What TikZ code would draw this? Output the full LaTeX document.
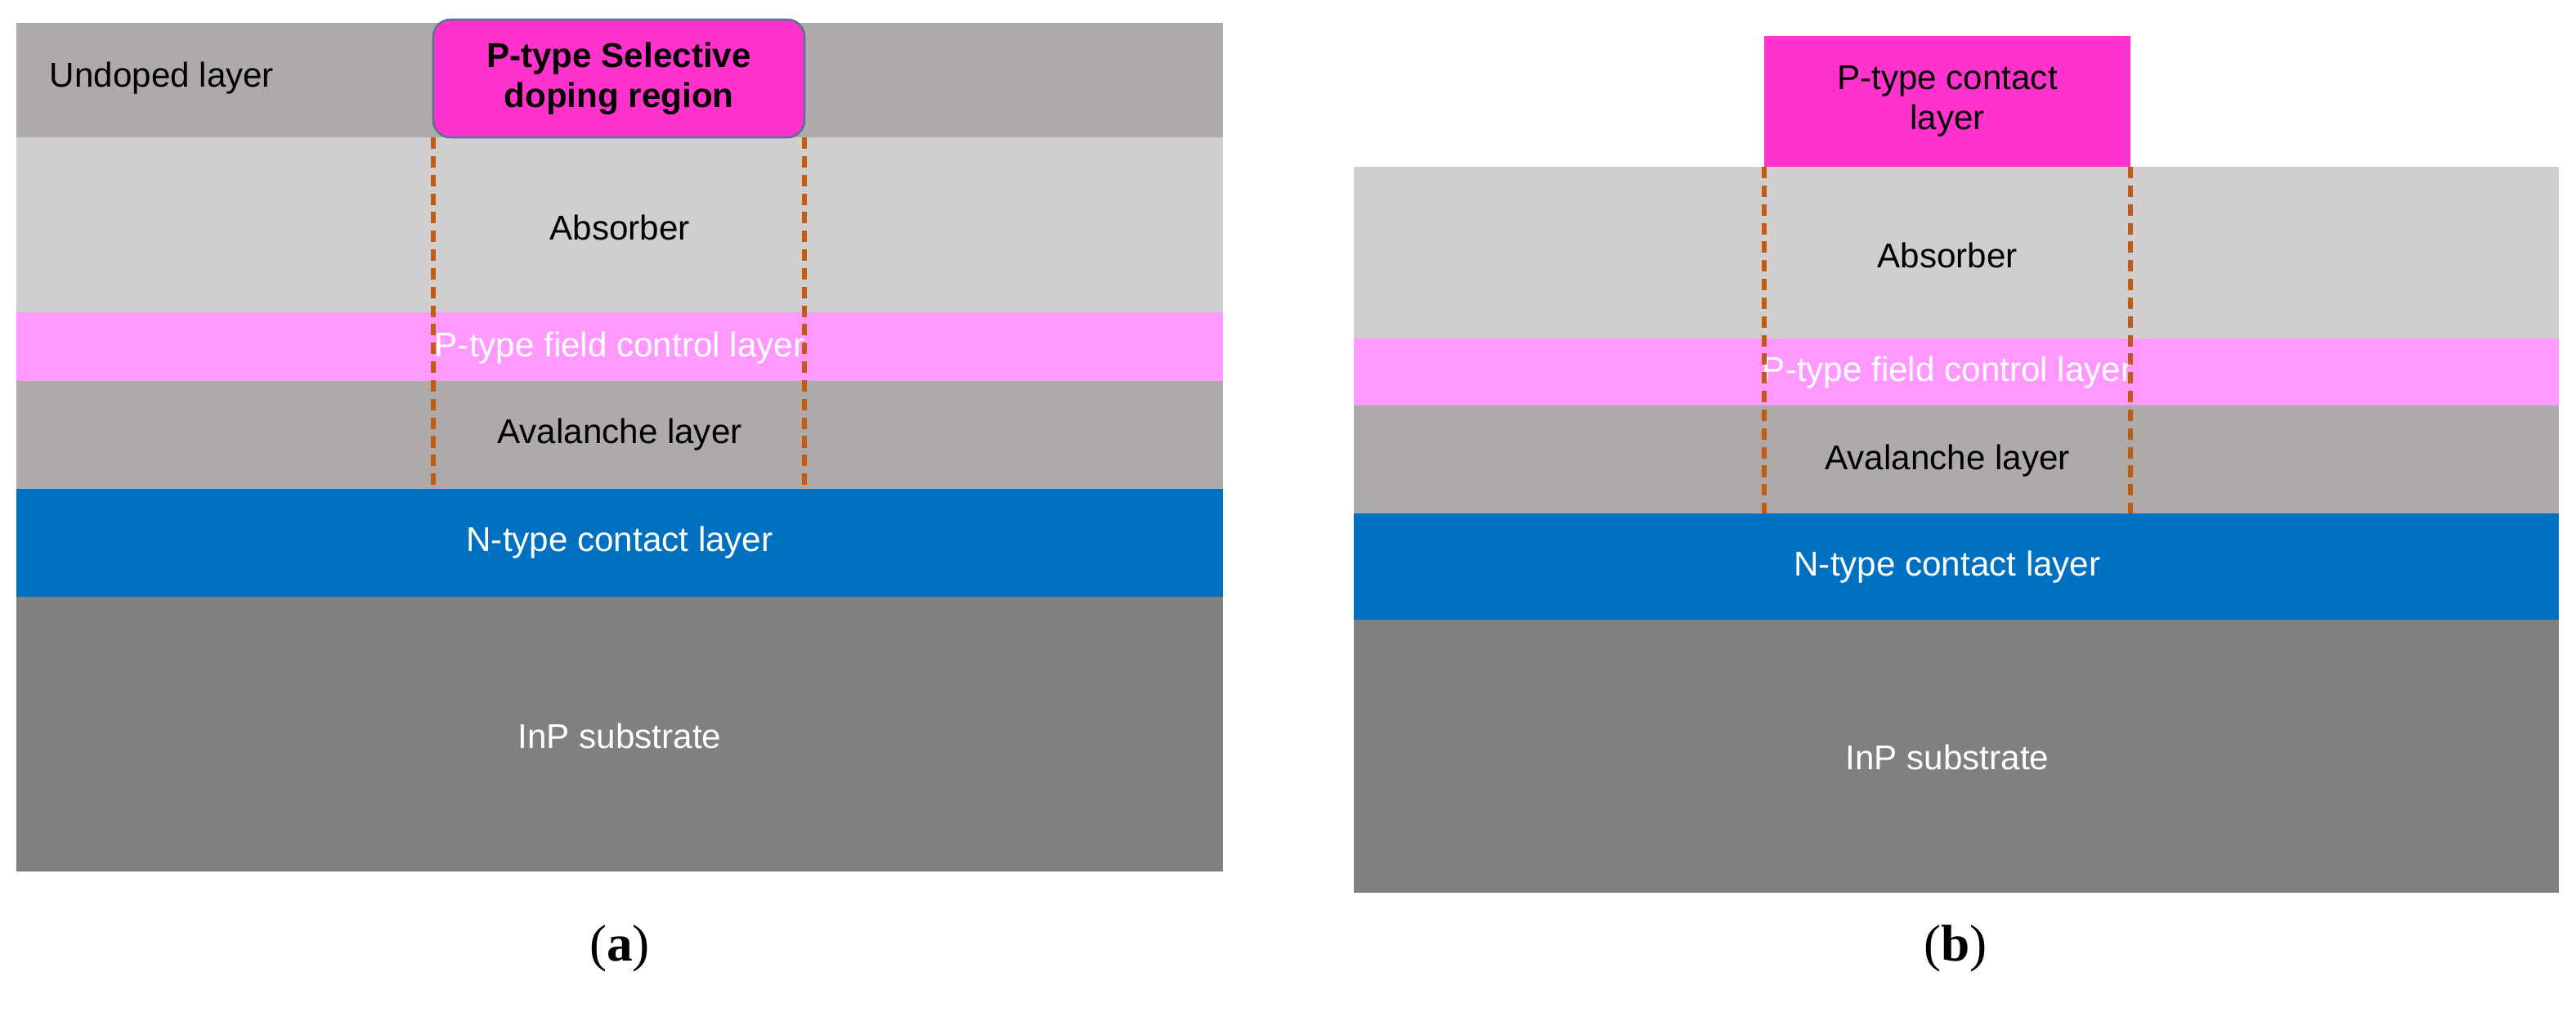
\documentclass[tikz,border=0pt]{standalone}
\usepackage{fontspec}
\setmainfont{Liberation Sans}
\newfontfamily\capfont{Liberation Serif}
\definecolor{undoped}{RGB}{174,170,170}
\definecolor{absorb}{RGB}{208,206,206}
\definecolor{pfield}{RGB}{255,153,255}
\definecolor{ntype}{RGB}{0,112,192}
\definecolor{inp}{RGB}{128,128,128}
\definecolor{pcont}{RGB}{255,51,204}
\definecolor{dashc}{RGB}{197,90,17}
\definecolor{bordc}{RGB}{100,110,150}
\tikzset{lbl/.style={font=\fontsize{12}{14}\selectfont,text=black},
 wlbl/.style={font=\fontsize{12}{14}\selectfont,text=white},
 cut/.style={draw=dashc,dash pattern=on 4pt off 2.5pt,line width=1.5pt},
 captxt/.style={font=\capfont\fontsize{18}{21}\selectfont}}
\begin{document}
\begin{tikzpicture}[x=0.02cm,y=-0.02cm]
\useasboundingbox (0,0) rectangle (1575.5,621.5);
% panel a
\fill[undoped] (10,14) rectangle (748,84);
\fill[absorb] (10,84) rectangle (748,191);
\fill[pfield] (10,191) rectangle (748,233);
\fill[undoped] (10,233) rectangle (748,299);
\fill[ntype] (10,299) rectangle (748,365);
\fill[inp] (10,365) rectangle (748,533);
\node[lbl] (ua) at (99,48) {Undoped layer};
\node[lbl] (aa) at (379,139) {Absorber};
\node[wlbl] (pa) at (379,213) {P-type field control layer};
\node[lbl] (va) at (379,266) {Avalanche layer};
\node[wlbl] (na) at (379,332) {N-type contact layer};
\node[wlbl] (ia) at (379,450) {InP substrate};
\node[draw=bordc,fill=pcont,rounded corners=6pt,line width=0.8pt,minimum width=227*0.02cm,minimum height=72*0.02cm,align=center,font=\fontsize{12}{14}\selectfont\bfseries] (sa) at (378.5,48) {P-type Selective\\doping region};
\coordinate (a1t) at (265,84); \coordinate (a1b) at (265,299);
\coordinate (a2t) at (492,84); \coordinate (a2b) at (492,299);
\draw[cut] (a1t) -- (a1b); \draw[cut] (a2t) -- (a2b);
\node[captxt] (capa) at (379,580) {(\textbf{a})};
% panel b
\fill[absorb] (828,102) rectangle (1565,207);
\fill[pfield] (828,207) rectangle (1565,248);
\fill[undoped] (828,248) rectangle (1565,314);
\fill[ntype] (828,314) rectangle (1565,379);
\fill[inp] (828,379) rectangle (1565,546);
\node[fill=pcont,minimum width=224*0.02cm,minimum height=80*0.02cm,align=center,font=\fontsize{12}{14}\selectfont,inner sep=0pt] (cb) at (1191,62) {P-type contact\\layer};
\node[lbl] (ab) at (1191,156) {Absorber};
\node[wlbl] (pb) at (1191,228) {P-type field control layer};
\node[lbl] (vb) at (1191,282) {Avalanche layer};
\node[wlbl] (nb) at (1191,347) {N-type contact layer};
\node[wlbl] (ib) at (1191,463) {InP substrate};
\coordinate (b1t) at (1079,102); \coordinate (b1b) at (1079,314);
\coordinate (b2t) at (1303,102); \coordinate (b2b) at (1303,314);
\draw[cut] (b1t) -- (b1b); \draw[cut] (b2t) -- (b2b);
\node[captxt] (capb) at (1196,580) {(\textbf{b})};
\end{tikzpicture}
\end{document}
